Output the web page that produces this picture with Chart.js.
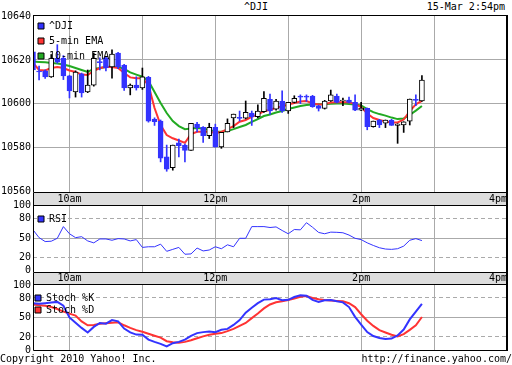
<!DOCTYPE html>
<html>
<head>
<meta charset="utf-8">
<title>^DJI</title>
<script src="https://cdn.jsdelivr.net/npm/chart.js@4.4.1/dist/chart.umd.min.js"></script>
<style>
  html, body { margin: 0; padding: 0; background: #fff; }
  body { width: 512px; height: 365px; position: relative; overflow: hidden;
         font-family: 'DejaVu Sans Mono', monospace; font-size: 10px; color: #000; }
  .panel { position: absolute; left: 0; width: 512px; }
  .txt { position: absolute; line-height: 12px; white-space: pre; }
</style>
</head>
<body>
<div class="txt" style="left:0;width:512px;top:1px;text-align:center">^DJI</div>
<div class="txt" style="right:7px;top:1px">15-Mar 2:54pm</div>
<div class="panel" style="top:0;height:198px"><canvas id="mainChart"></canvas></div>
<div class="panel" style="top:192px;height:86px"><canvas id="rsiChart"></canvas></div>
<div class="panel" style="top:272px;height:86px"><canvas id="stochChart"></canvas></div>
<div class="txt" style="left:0;top:353px">Copyright 2010 Yahoo! Inc.</div>
<div class="txt" style="right:0;top:353px">http://finance.yahoo.com/</div>

<script>
// Datos: velas de 5 minutos del ^DJI (15-Mar)
const times = [
  '9:30', '9:35', '9:40', '9:45', '9:50', '9:55',
  '10:00', '10:05', '10:10', '10:15', '10:20', '10:25', '10:30', '10:35', '10:40', '10:45', '10:50', '10:55',
  '11:00', '11:05', '11:10', '11:15', '11:20', '11:25', '11:30', '11:35', '11:40', '11:45', '11:50', '11:55',
  '12:00', '12:05', '12:10', '12:15', '12:20', '12:25', '12:30', '12:35', '12:40', '12:45', '12:50', '12:55',
  '13:00', '13:05', '13:10', '13:15', '13:20', '13:25', '13:30', '13:35', '13:40', '13:45', '13:50', '13:55',
  '14:00', '14:05', '14:10', '14:15', '14:20', '14:25', '14:30', '14:35', '14:40', '14:45', '14:50'
];

const opens = [
  10623.7, 10614.6, 10615.0, 10612.2, 10620.9, 10620.8, 10612.7, 10605.3, 10613.6, 10605.3,
  10608.5, 10619.0, 10621.0, 10616.8, 10623.2, 10617.7, 10607.2, 10608.5, 10607.2, 10612.0,
  10592.9, 10592.0, 10575.6, 10570.6, 10582.0, 10581.0, 10578.6, 10590.6, 10589.1, 10585.3,
  10589.1, 10580.2, 10587.0, 10593.4, 10593.3, 10593.3, 10595.7, 10594.0, 10596.3, 10602.0,
  10597.4, 10601.2, 10596.6, 10600.6, 10603.2, 10603.2, 10603.5, 10599.0, 10597.8, 10601.2,
  10603.5, 10601.2, 10601.6, 10600.6, 10597.0, 10597.8, 10589.4, 10592.5, 10591.0, 10592.5,
  10590.0, 10590.2, 10592.0, 10601.6, 10601.2
];
const highs = [
  10624.5, 10617.2, 10615.5, 10622.5, 10627.0, 10622.0, 10613.0, 10615.0, 10614.0, 10615.4,
  10623.2, 10621.0, 10621.5, 10624.6, 10623.5, 10618.0, 10609.0, 10612.3, 10616.3, 10612.5,
  10593.5, 10592.5, 10581.0, 10581.0, 10583.7, 10581.5, 10591.0, 10591.4, 10589.5, 10591.0,
  10590.6, 10586.8, 10593.0, 10595.2, 10596.6, 10601.2, 10596.6, 10599.4, 10605.5, 10604.4,
  10602.0, 10605.8, 10600.6, 10603.6, 10604.0, 10604.0, 10603.8, 10599.3, 10601.5, 10606.2,
  10604.4, 10602.5, 10603.0, 10604.0, 10600.6, 10598.0, 10592.0, 10592.8, 10592.5, 10592.8,
  10590.8, 10591.7, 10602.1, 10604.0, 10612.8
];
const lows = [
  10608.5, 10610.8, 10611.5, 10612.0, 10618.5, 10611.0, 10602.6, 10603.0, 10603.0, 10605.0,
  10608.0, 10615.4, 10615.0, 10611.7, 10616.0, 10606.0, 10604.0, 10606.2, 10606.5, 10591.5,
  10590.0, 10573.3, 10569.0, 10569.5, 10575.6, 10573.3, 10578.6, 10587.0, 10582.2, 10584.0,
  10580.0, 10579.5, 10587.0, 10589.0, 10592.0, 10593.0, 10590.0, 10593.5, 10596.0, 10595.0,
  10597.0, 10596.0, 10595.5, 10600.3, 10600.0, 10601.0, 10598.3, 10596.6, 10597.5, 10601.0,
  10600.3, 10599.0, 10600.3, 10596.8, 10596.8, 10588.0, 10589.2, 10589.0, 10589.0, 10590.0,
  10581.8, 10586.8, 10590.2, 10599.0, 10601.0
];
const closes = [
  10615.4, 10614.5, 10612.2, 10620.9, 10619.0, 10612.7, 10605.8, 10614.5, 10604.9, 10608.5,
  10620.9, 10618.8, 10616.3, 10622.7, 10616.8, 10607.2, 10608.5, 10607.2, 10612.3, 10592.0,
  10591.7, 10575.0, 10570.0, 10581.0, 10580.7, 10578.6, 10591.0, 10589.0, 10585.3, 10589.1,
  10580.2, 10586.8, 10591.0, 10595.2, 10593.2, 10596.0, 10594.0, 10596.6, 10602.4, 10596.6,
  10601.2, 10596.6, 10600.6, 10602.4, 10603.0, 10603.0, 10598.6, 10597.8, 10601.2, 10604.0,
  10600.6, 10601.2, 10600.6, 10597.0, 10598.0, 10589.4, 10592.0, 10590.2, 10592.5, 10590.0,
  10590.6, 10591.7, 10602.1, 10601.5, 10610.8
];

const ema5 = [
  10618.6, 10615.4, 10615.2, 10616.3, 10616.8, 10616.3, 10615.2, 10614.5, 10613.3, 10613.1,
  10615.0, 10616.3, 10616.8, 10616.8, 10616.3, 10614.0, 10612.0, 10611.6, 10611.6, 10608.5,
  10598.0, 10590.2, 10585.6, 10584.1, 10583.1, 10582.0, 10586.0, 10587.1, 10587.1, 10587.1,
  10586.5, 10587.0, 10588.3, 10589.7, 10591.7, 10592.5, 10593.9, 10595.0, 10596.6, 10597.1,
  10598.1, 10598.7, 10599.6, 10600.3, 10601.0, 10601.2, 10600.1, 10599.6, 10599.7, 10600.5,
  10600.6, 10600.6, 10600.6, 10599.8, 10598.4, 10595.5, 10593.4, 10592.5, 10591.8, 10591.4,
  10591.4, 10592.7, 10596.6, 10599.7, 10601.2
];
const ema10 = [
  10619.3, 10619.1, 10618.9, 10618.6, 10618.4, 10617.9, 10617.2, 10616.3, 10615.4, 10614.5,
  10615.9, 10616.3, 10616.8, 10616.9, 10616.8, 10615.9, 10614.3, 10613.3, 10612.3, 10610.4,
  10605.3, 10600.3, 10595.7, 10592.0, 10589.7, 10588.3, 10588.6, 10588.8, 10588.6, 10587.9,
  10587.2, 10587.1, 10587.4, 10588.3, 10589.3, 10590.2, 10591.6, 10592.9, 10594.3, 10595.0,
  10595.9, 10596.6, 10597.5, 10598.2, 10598.9, 10599.4, 10599.6, 10599.7, 10599.7, 10599.9,
  10600.0, 10600.0, 10599.8, 10599.6, 10599.1, 10597.5, 10596.1, 10595.2, 10594.5, 10593.6,
  10592.9, 10593.2, 10594.8, 10596.8, 10598.9
];

const rsi = [
  63, 51, 45, 45.5, 50, 68, 57, 51, 52.5, 46,
  43, 49, 49, 47, 49.5, 49, 46, 48, 36, 37,
  37, 41, 30, 33, 36, 25.5, 26, 35, 30.6, 32,
  37, 34, 40, 37, 50, 50, 68, 68, 68, 66.6,
  67.5, 62, 57, 63.5, 63, 74, 67, 59, 57, 59.5,
  59.2, 58.5, 55, 50, 48, 43, 39, 35.5, 33.5, 33,
  34, 38, 47, 49.5, 46.5
];
const stochK = [
  72, 71, 72, 73, 74, 68, 50, 42, 34, 27,
  35.5, 41.5, 40.5, 46, 44, 33, 27, 23.7, 23.5, 16,
  12.5, 9.5, 5.5, 10.5, 12.5, 16, 21.7, 26, 27.5, 28.5,
  27.3, 31, 32.5, 38.5, 46, 57.5, 65, 72, 77.5, 78.2,
  80, 76.5, 77.2, 81.5, 84, 83.5, 77, 74, 76.5, 77,
  75, 73.3, 66, 51, 39, 27.5, 21.5, 18.5, 17, 17.5,
  22.5, 31.5, 47, 59, 70.8
];
const stochD = [
  70, 69, 68, 66, 63, 59, 56, 53, 44, 38,
  38.5, 40.2, 41.2, 42, 42.5, 38, 34, 30.5, 28, 25,
  22, 19, 13.5, 12, 11, 12.5, 15, 18, 21, 23.5,
  25, 26, 29, 32.5, 37, 41.5, 49, 56, 64, 70,
  73.5, 75, 76.8, 79, 82, 83, 80, 78, 77, 76.3,
  75.5, 74.8, 72, 66, 55, 45, 37, 30.5, 27, 23.5,
  21, 24.5, 31, 38, 50.8
];

// Ejes
const hourTimes = ['9:30', '10:00', '11:00', '12:00', '13:00', '14:00', '15:00', '16:00'];
const hourLabels = ['', '10am', '', '12pm', '', '2pm', '', '4pm'];
const priceTicks = [10560, 10580, 10600, 10620, 10640];
const oscTicks = [0, 20, 50, 80, 100];

const BLUE = '#3333ff';
const RED = '#ff3333';
const GREEN = '#22aa22';
const GRID = '#aaaaaa';
const BAND = '#dddddd';

Chart.defaults.font.family = "'DejaVu Sans Mono', monospace";
Chart.defaults.font.size = 10;
Chart.defaults.color = '#000';

// minutos desde la apertura (9:30)
function toMinutes(t) {
  const [h, m] = t.split(':').map(Number);
  return h * 60 + m - 570;
}
const xs = times.map(toMinutes);
const isUp = opens.map((o, i) => closes[i] >= o);
const points = (arr) => xs.map((x, i) => ({ x, y: arr[i] }));

function timeAxis(position, bandHeight) {
  const showLabels = bandHeight > 0;
  return {
    type: 'linear',
    position,
    min: 0,
    max: 390,
    offset: false,
    backgroundColor: showLabels ? BAND : undefined,
    afterBuildTicks: (s) => { s.ticks = hourTimes.map(t => ({ value: toMinutes(t) })); },
    afterFit: (s) => { s.height = bandHeight; s.paddingLeft = 0; s.paddingRight = 0; },
    grid: {
      offset: false,
      drawTicks: false,
      color: (c) => (c.tick && c.tick.value > 0 && c.tick.value < 390) ? GRID : 'rgba(0,0,0,0)'
    },
    border: { display: false },
    ticks: {
      display: showLabels,
      autoSkip: false,
      maxRotation: 0,
      align: 'inner',
      padding: 0,
      callback: (v, i) => hourLabels[i]
    }
  };
}

function valueAxis(min, max, tickValues, gridAt, dashedAt) {
  return {
    min,
    max,
    position: 'left',
    afterBuildTicks: (s) => { s.ticks = tickValues.map(v => ({ value: v })); },
    afterFit: (s) => { s.width = 33; s.paddingTop = 0; s.paddingBottom = 0; },
    grid: {
      drawTicks: false,
      color: (c) => (c.tick && gridAt.includes(c.tick.value)) ? GRID : 'rgba(0,0,0,0)'
    },
    border: {
      display: false,
      dash: (c) => (c.tick && dashedAt.includes(c.tick.value)) ? [4, 3] : []
    },
    ticks: { padding: 2, autoSkip: false, callback: (v) => String(v) }
  };
}

// la leyenda vertical arranca en el borde superior del canvas; el título vacío la baja
function legendFor(items, padding, offset) {
  return {
    position: 'chartArea',
    align: 'start',
    title: { display: true, text: '', padding: 0, font: { size: offset, lineHeight: 1 } },
    labels: {
      boxWidth: 6,
      boxHeight: 6,
      padding,
      font: { size: 10 },
      generateLabels: () => items.map(it => ({
        text: it.text, fillStyle: it.color, strokeStyle: '#000', lineWidth: 1, hidden: false
      }))
    }
  };
}

// la leyenda se dibuja encima de las series
const legendOnTop = {
  id: 'legendOnTop',
  beforeLayout(chart) {
    const legend = chart.legend;
    if (legend) {
      legend._layers = () => [{ z: 1, draw: (area) => legend.draw(area) }];
    }
  }
};

// marco negro de cada panel
const panelBorder = {
  id: 'panelBorder',
  afterDraw(chart) {
    const { ctx, chartArea: a, scales } = chart;
    const top = scales.x.position === 'top' ? scales.x.top : a.top;
    ctx.save();
    ctx.strokeStyle = '#000';
    ctx.lineWidth = 1;
    ctx.beginPath();
    ctx.rect(a.left + 0.5, top + 0.5, a.right - a.left - 1, a.bottom - top);
    ctx.moveTo(a.left, a.top + 0.5);
    ctx.lineTo(a.right, a.top + 0.5);
    ctx.stroke();
    ctx.fillStyle = '#000';
    ctx.fillRect(a.right - 1, top, 2, a.bottom - top + 1);
    ctx.restore();
  }
};

const baseOptions = {
  responsive: true,
  maintainAspectRatio: false,
  animation: false,
  events: []
};

// Panel principal: velas + EMAs
new Chart(document.getElementById('mainChart'), {
  type: 'bar',
  data: {
    datasets: [
      {
        label: '^DJI',
        data: xs.map((x, i) => ({ x, y: [opens[i], closes[i]] })),
        backgroundColor: isUp.map(u => u ? '#fff' : BLUE),
        borderColor: isUp.map(u => u ? '#000' : BLUE),
        borderWidth: 1,
        borderSkipped: false,
        grouped: false,
        barPercentage: 1,
        categoryPercentage: 1,
        maxBarThickness: 5,
        minBarLength: 1
      },
      {
        label: 'range',
        data: xs.map((x, i) => ({ x, y: [lows[i], highs[i]] })),
        backgroundColor: isUp.map(u => u ? '#000' : BLUE),
        borderWidth: 0,
        grouped: false,
        barPercentage: 1,
        categoryPercentage: 1,
        maxBarThickness: 1
      },
      { type: 'line', label: '5-min EMA', data: points(ema5), borderColor: RED, borderWidth: 2, pointRadius: 0 },
      { type: 'line', label: '10-min EMA', data: points(ema10), borderColor: GREEN, borderWidth: 2, pointRadius: 0 }
    ]
  },
  options: {
    ...baseOptions,
    layout: { padding: { top: 15, right: 5, bottom: 6, left: 0 } },
    plugins: {
      legend: legendFor([
        { text: '^DJI', color: BLUE },
        { text: '5-min EMA', color: RED },
        { text: '10-min EMA', color: GREEN }
      ], 5, 16),
      tooltip: { enabled: false }
    },
    scales: {
      x: timeAxis('bottom', 0),
      y: valueAxis(10559.5, 10640.6, priceTicks, [10580, 10600, 10620], [])
    }
  },
  plugins: [legendOnTop, panelBorder]
});

// Panel RSI
new Chart(document.getElementById('rsiChart'), {
  type: 'line',
  data: {
    datasets: [{ label: 'RSI', data: points(rsi), borderColor: BLUE, borderWidth: 1, pointRadius: 0 }]
  },
  options: {
    ...baseOptions,
    layout: { padding: { top: 0, right: 5, bottom: 6, left: 0 } },
    plugins: {
      legend: legendFor([{ text: 'RSI', color: BLUE }], 5, 17),
      tooltip: { enabled: false }
    },
    scales: {
      x: timeAxis('top', 13),
      y: valueAxis(-1.8, 101.2, oscTicks, [20, 50, 80], [20, 80])
    }
  },
  plugins: [legendOnTop, panelBorder]
});

// Panel estocástico
new Chart(document.getElementById('stochChart'), {
  type: 'line',
  data: {
    datasets: [
      { label: 'Stoch %K', data: points(stochK), borderColor: BLUE, borderWidth: 2, pointRadius: 0 },
      { label: 'Stoch %D', data: points(stochD), borderColor: RED, borderWidth: 2, pointRadius: 0 }
    ]
  },
  options: {
    ...baseOptions,
    layout: { padding: { top: 0, right: 5, bottom: 8, left: 0 } },
    plugins: {
      legend: legendFor([
        { text: 'Stoch %K', color: BLUE },
        { text: 'Stoch %D', color: RED }
      ], 2, 19),
      tooltip: { enabled: false }
    },
    scales: {
      x: timeAxis('top', 12),
      y: valueAxis(0, 101.5, oscTicks, [20, 50, 80], [20, 80])
    }
  },
  plugins: [legendOnTop, panelBorder]
});
</script>
</body>
</html>
